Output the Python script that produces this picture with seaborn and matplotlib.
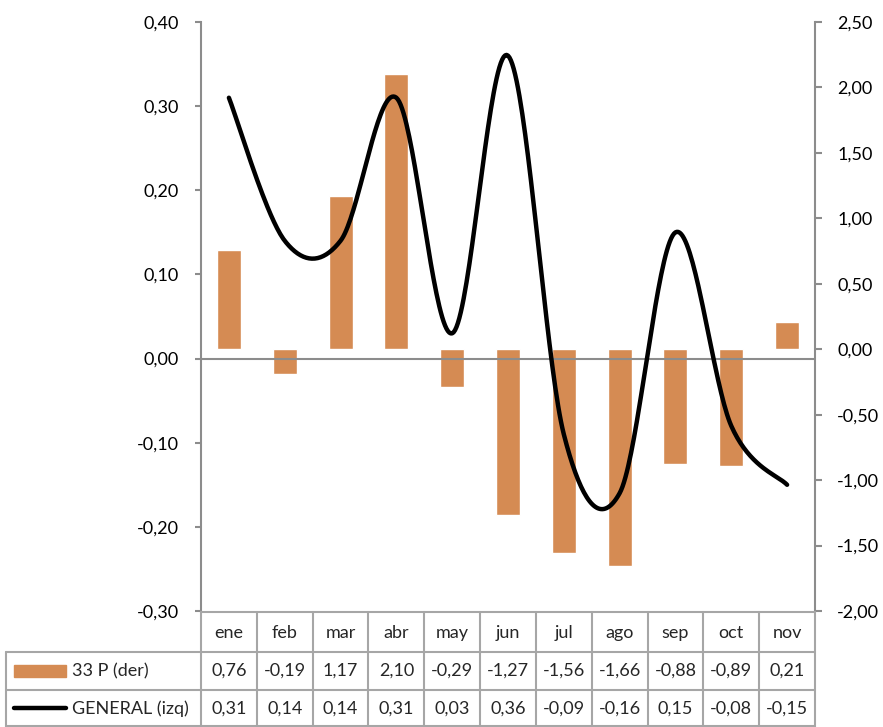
import numpy as np
import matplotlib
matplotlib.use("Agg")
import matplotlib.pyplot as plt
import seaborn as sns
from matplotlib.lines import Line2D
from matplotlib.patches import Rectangle

months = ["ene", "feb", "mar", "abr", "may", "jun", "jul", "ago", "sep", "oct", "nov"]
p33 = [0.76, -0.19, 1.17, 2.10, -0.29, -1.27, -1.56, -1.66, -0.88, -0.89, 0.21]
general = [0.31, 0.14, 0.14, 0.31, 0.03, 0.36, -0.09, -0.16, 0.15, -0.08, -0.15]
left_ticks = [-0.30, -0.20, -0.10, 0.00, 0.10, 0.20, 0.30, 0.40]
right_ticks = [-2.00, -1.50, -1.00, -0.50, 0.00, 0.50, 1.00, 1.50, 2.00, 2.50]

BAR = "#D58B53"
GRAY = "#8C8C8C"
TGRAY = "#A6A6A6"
FONT = "Lato"
FS = 13

sns.set_theme(style="white")
plt.rcParams["font.family"] = [FONT, "DejaVu Sans"]

W, H = 883, 727
fig = plt.figure(figsize=(W / 100, H / 100), dpi=100)
X0, X1, Y0, Y1 = 201, 815, 22, 611  # plot area in pixels (top-left origin)


def fx(px):
    return px / W


def fy(py):
    return 1 - py / H


ax = fig.add_axes([fx(X0), fy(Y1), fx(X1) - fx(X0), fy(Y0) - fy(Y1)])
ax2 = ax.twinx()

# bars on right axis
sns.barplot(x=months, y=p33, color=BAR, width=0.43, ax=ax, saturation=1, zorder=2)
ax.set_ylim(-2.0, 2.5)
ax.set_yticks(right_ticks)
ax.set_yticklabels([f"{v:.2f}".replace(".", ",") for v in right_ticks])
ax.yaxis.tick_right()
ax.set_xlim(-0.5, len(months) - 0.5)
ax.set_xticks([])
ax.set_xlabel("")
ax.set_ylabel("")


# smoothed line (Excel-like Catmull-Rom Bezier) on left axis
def smooth(xs, ys, n=40):
    P = np.column_stack([xs, ys]).astype(float)
    m = len(P)
    out = []
    for i in range(m - 1):
        p0 = P[max(i - 1, 0)]
        p1 = P[i]
        p2 = P[i + 1]
        p3 = P[min(i + 2, m - 1)]
        c1 = p1 + (p2 - p0) / 6
        c2 = p2 - (p3 - p1) / 6
        t = np.linspace(0, 1, n)[:, None]
        seg = (1 - t) ** 3 * p1 + 3 * (1 - t) ** 2 * t * c1 + 3 * (1 - t) * t ** 2 * c2 + t ** 3 * p2
        out.append(seg if i == 0 else seg[1:])
    out = np.vstack(out)
    return out[:, 0], out[:, 1]


sx, sy = smooth(np.arange(len(months)), general)
ax2.axhline(0, color=GRAY, lw=1.5, zorder=1)
sns.lineplot(x=sx, y=sy, sort=False, color="black", lw=3.2, ax=ax2, zorder=3,
             solid_capstyle="round")
ax2.set_ylim(-0.30, 0.40)
ax2.set_yticks(left_ticks)
ax2.set_yticklabels([f"{v:.2f}".replace(".", ",") for v in left_ticks])
ax2.yaxis.tick_left()
ax2.set_xlim(-0.5, len(months) - 0.5)

for a in (ax, ax2):
    for s in a.spines.values():
        s.set_visible(False)
    a.grid(False)
ax.tick_params(axis="y", length=5, width=1.5, color=GRAY, labelsize=FS, pad=11,
               labelcolor="black")
ax2.tick_params(axis="y", length=4, width=1.5, color=GRAY, labelsize=FS, pad=12,
                labelcolor="black")
ax2.spines["left"].set_visible(True)
ax2.spines["left"].set_color(GRAY)
ax2.spines["left"].set_linewidth(1.5)
ax2.spines["right"].set_visible(True)
ax2.spines["right"].set_color(GRAY)
ax2.spines["right"].set_linewidth(1.5)
ax.patch.set_visible(False)

# data table below the plot
colw = (X1 - X0) / len(months)
LX = 6
lines = []
lines.append(((X0, 612), (X1, 612)))
lines.append(((LX, 652), (X1, 652)))
lines.append(((LX, 690), (X1, 690)))
lines.append(((LX, 726), (X1, 726)))
for i in range(len(months) + 1):
    lines.append(((X0 + i * colw, 612), (X0 + i * colw, 727)))
lines.append(((LX, 652), (LX, 727)))
for (a, b) in lines:
    fig.add_artist(Line2D([fx(a[0]), fx(b[0])], [fy(a[1]), fy(b[1])], color=TGRAY, lw=1.5))

for i, m in enumerate(months):
    cx = X0 + (i + 0.5) * colw
    fig.text(fx(cx), fy(633), m, ha="center", va="center", fontsize=FS)
    fig.text(fx(cx), fy(671), f"{p33[i]:.2f}".replace(".", ","), ha="center", va="center", fontsize=FS)
    fig.text(fx(cx), fy(709), f"{general[i]:.2f}".replace(".", ","), ha="center", va="center", fontsize=FS)

# legend keys in table
fig.add_artist(Rectangle((fx(14), fy(677)), fx(66) - fx(14), fy(665) - fy(677), color=BAR))
fig.add_artist(Line2D([fx(14), fx(66)], [fy(708), fy(708)], color="black", lw=3.2, solid_capstyle="round"))
fig.text(fx(72), fy(671), "33 P (der)", ha="left", va="center", fontsize=FS)
fig.text(fx(72), fy(709), "GENERAL (izq)", ha="left", va="center", fontsize=FS)

fig.savefig("out.png", dpi=100)
